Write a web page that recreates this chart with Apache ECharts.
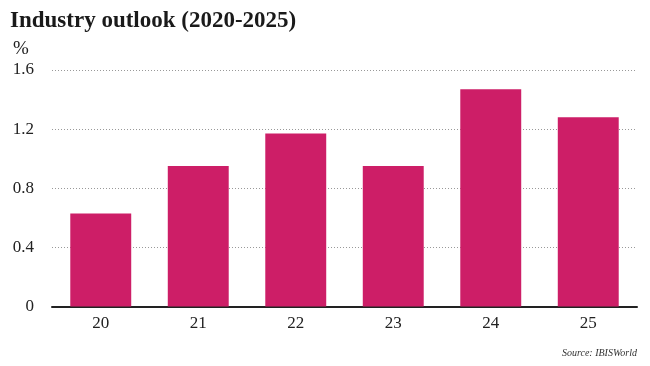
<!DOCTYPE html>
<html><head><meta charset="utf-8">
<script src="https://cdn.jsdelivr.net/npm/echarts@6/dist/echarts.min.js"></script>
<style>html,body{margin:0;padding:0;background:#fff}#c{width:650px;height:366px}</style>
</head><body><div id="c"></div>
<script>
const categories = ['20','21','22','23','24','25'];
const values = [0.63, 0.95, 1.17, 0.95, 1.47, 1.28];
const yTicks = [0, 0.4, 0.8, 1.2, 1.6];
const FONT = '"Liberation Serif", "DejaVu Serif", serif';
const chart = echarts.init(document.getElementById('c'));
chart.setOption({
  animation: false,
  title: [
    {text: 'Industry outlook (2020-2025)', left: 5, top: 5,
     textStyle: {fontFamily: FONT, fontWeight: 'bold', fontSize: 23, color: '#1a1a1a'}},
    {text: '%', left: 8, top: 35, textStyle: {fontFamily: FONT, fontWeight: 'normal', fontSize: 19, color: '#222'}},
    {text: 'Source: IBISWorld', right: 8, top: 343,
     textStyle: {fontFamily: FONT, fontStyle: 'italic', fontWeight: 'normal', fontSize: 10, color: '#333'}}
  ],
  grid: {left: 52, right: 13, top: 70, bottom: 59.5},
  xAxis: {
    type: 'category', data: categories,
    axisLine: {lineStyle: {color: '#222', width: 2}},
    axisTick: {show: false},
    axisLabel: {fontFamily: FONT, fontSize: 17, color: '#222', margin: 9}
  },
  yAxis: {
    type: 'value', min: 0, max: 1.6, interval: 0.4,
    axisLine: {show: false}, axisTick: {show: false},
    axisLabel: {fontFamily: FONT, fontSize: 17, color: '#222', margin: 18,
      formatter: v => yTicks.includes(+v.toFixed(1)) ? (v === 0 ? '0' : v.toFixed(1)) : ''},
    splitLine: {lineStyle: {color: '#999', type: [1, 2], width: 1}}
  },
  series: [{
    type: 'bar', data: values, barWidth: '62.5%',
    itemStyle: {color: '#cd1e67'}
  }]
});
</script></body></html>
